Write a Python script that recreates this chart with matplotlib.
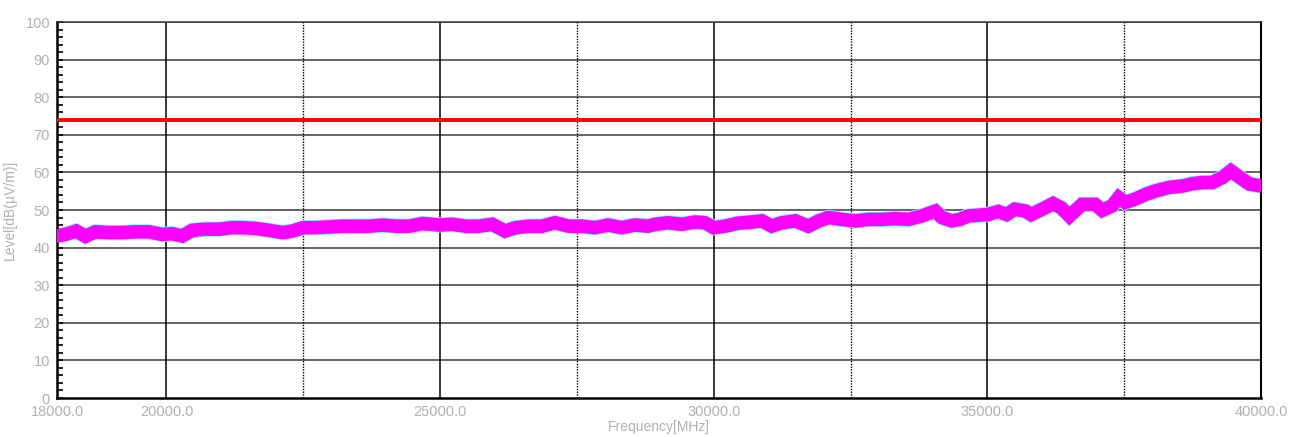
import numpy as np
import matplotlib
matplotlib.use("Agg")
import matplotlib.pyplot as plt
from matplotlib.ticker import MultipleLocator, FixedLocator

# trace (band centre), MHz / dB(uV/m)
freq_mhz = [18000, 18150, 18350, 18520, 18700, 18950, 19190, 19430, 19680, 19920,
            20100, 20290, 20470, 20710, 20960, 21200, 21380, 21630, 21870, 22120,
            22300, 22500, 22730, 22970, 23210, 23460, 23710, 23950, 24190, 24440,
            24680, 25000, 25220, 25470, 25710, 25950, 26190, 26380, 26620, 26860,
            27100, 27350, 27590, 27830, 28070, 28320, 28560, 28800, 28930, 29170,
            29420, 29660, 29840, 30000, 30210, 30450, 30700, 30880, 31060, 31240,
            31490, 31730, 31920, 32100, 32340, 32590, 32830, 33070, 33320, 33560,
            33800, 34050, 34170, 34350, 34500, 34650, 35000, 35200, 35350, 35500,
            35700, 35800, 36000, 36200, 36350, 36500, 36730, 36970, 37100, 37280,
            37400, 37520, 37700, 37900, 38080, 38320, 38570, 38750, 38930, 39110,
            39300, 39450, 39600, 39790, 40000]
level_db = [43.1, 43.5, 44.4, 43.0, 44.2, 44.0, 44.0, 44.2, 44.2, 43.5,
            43.7, 43.1, 44.6, 44.9, 44.9, 45.3, 45.3, 45.1, 44.6, 44.0,
            44.4, 45.3, 45.3, 45.5, 45.7, 45.7, 45.7, 46.0, 45.7, 45.7,
            46.4, 46.0, 46.2, 45.7, 45.7, 46.2, 44.4, 45.3, 45.7, 45.7,
            46.6, 45.7, 45.7, 45.3, 46.0, 45.3, 46.0, 45.7, 46.2, 46.6,
            46.2, 46.8, 46.6, 45.3, 45.7, 46.5, 46.8, 47.1, 45.7, 46.6,
            47.1, 45.7, 47.1, 48.0, 47.5, 47.1, 47.5, 47.5, 47.7, 47.5,
            48.4, 49.7, 48.0, 47.1, 47.5, 48.4, 48.8, 49.6, 48.8, 50.2,
            49.7, 48.8, 50.2, 51.7, 50.6, 48.4, 51.5, 51.5, 49.9, 51.1,
            53.3, 52.0, 52.9, 54.2, 55.1, 56.0, 56.4, 57.0, 57.3, 57.3,
            58.7, 60.4, 58.8, 56.9, 56.4]

limit_freq = [18000, 40000]
limit_db = [74, 74]

x_labelled = [18000, 20000, 25000, 30000, 35000, 40000]
x_solid = [20000, 25000, 30000, 35000]
x_dotted = [22500, 27500, 32500, 37500]

txt = "#b0b0b0"
plt.rcParams["font.family"] = ["Liberation Sans", "DejaVu Sans"]

fig = plt.figure(figsize=(12.93, 4.37), dpi=100)
ax = fig.add_axes([57 / 1293, 39 / 437, 1204 / 1293, 376 / 437])

ax.set_xlim(18000, 40000)
ax.set_ylim(0, 100)

# grid
for v in range(10, 101, 10):
    ax.axhline(v, color="#3a3a3a", lw=1.1, zorder=1)
for v in x_solid:
    ax.axvline(v, color="black", lw=1.1, zorder=1)
for v in x_dotted:
    ax.axvline(v, color="black", lw=1.0, ls=(0, (1, 1)), zorder=1)

ax.plot(freq_mhz, level_db, color="#80ffff", lw=11, solid_joinstyle="miter", zorder=2)
ax.plot(freq_mhz, level_db, color="#ff00ff", lw=9.8, solid_joinstyle="miter", zorder=3)
ax.plot(limit_freq, limit_db, color="#ff0000", lw=2.8, zorder=4)

ax.xaxis.set_major_locator(FixedLocator(x_labelled))
ax.set_xticklabels([f"{v:.1f}" for v in x_labelled])
ax.yaxis.set_major_locator(MultipleLocator(10))
ax.yaxis.set_minor_locator(MultipleLocator(2))
ax.tick_params(axis="y", which="both", direction="in", length=4, width=1.2,
               colors="black", labelcolor=txt, labelsize=10.5, pad=5)
ax.tick_params(axis="x", length=0, labelcolor=txt, labelsize=10.5, pad=5)

for s in ["left", "bottom"]:
    ax.spines[s].set_linewidth(1.8)
ax.spines["right"].set_linewidth(1.5)
ax.spines["top"].set_color("#3a3a3a")
ax.spines["top"].set_linewidth(1.1)

ax.set_xlabel("Frequency[MHz]", color=txt, fontsize=10, labelpad=1)
ax.set_ylabel("Level[dB(µV/m)]", color=txt, fontsize=10, labelpad=6)

fig.savefig("out.png", dpi=100)
